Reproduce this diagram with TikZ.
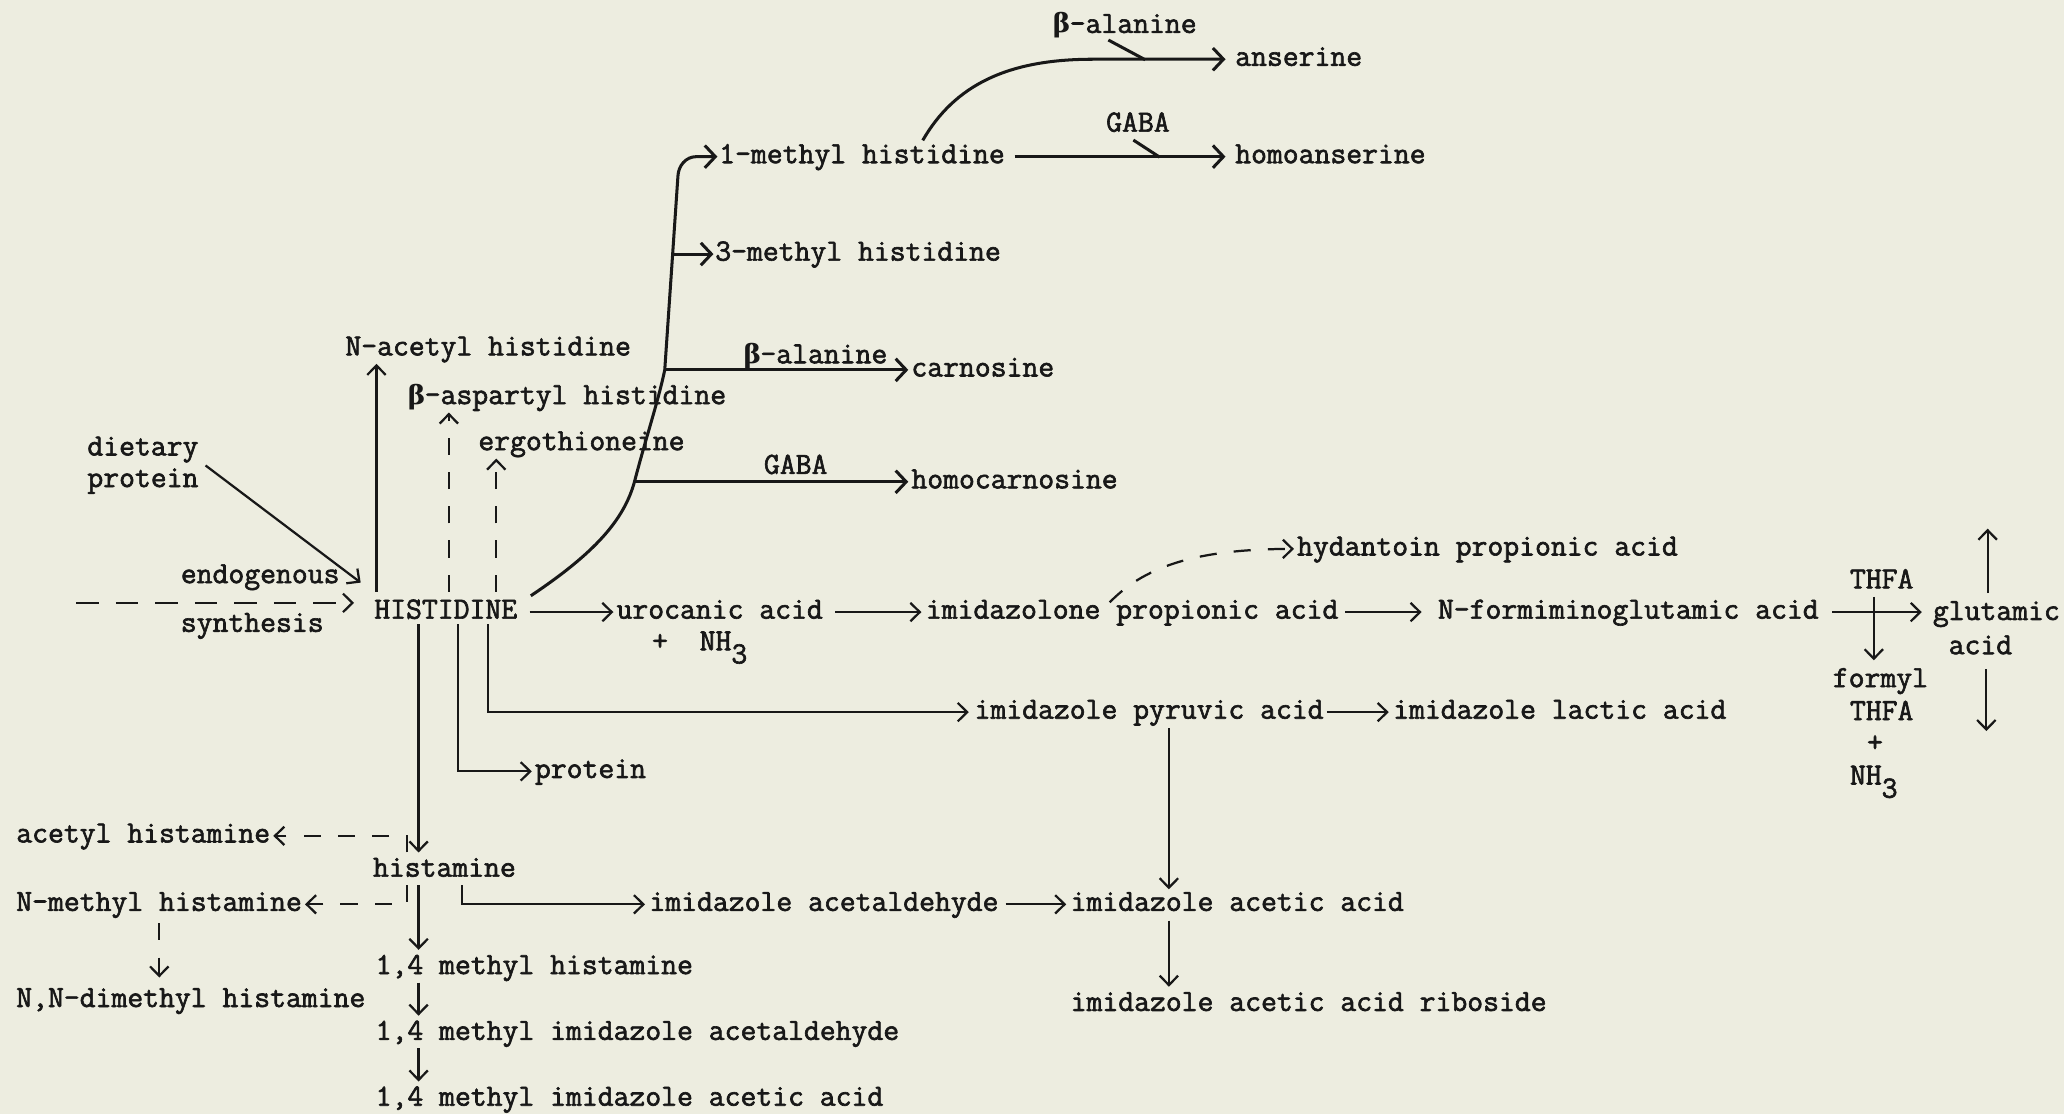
\documentclass[tikz,border=0pt]{standalone}
\usepackage{fontspec}
\setmonofont{Latin Modern Mono}[FakeBold=2]
\newfontfamily\grk{DejaVu Serif}
\usetikzlibrary{arrows.meta,calc}
\definecolor{paper}{RGB}{237,237,224}
\definecolor{ink}{RGB}{24,24,24}
\newcommand\mybeta{\makebox[0.525em][c]{\grk\bfseries\fontsize{10}{12}\selectfont β}}
\begin{document}
\begin{tikzpicture}[x=0.5pt,y=-0.5pt,
  lbl/.style={anchor=base west, inner sep=0pt, text height=7pt, text depth=2pt,
    font=\ttfamily\fontsize{11.7}{14}\selectfont, text=ink},
  ln/.style={draw=ink, line width=0.85pt},
  thk/.style={draw=ink, line width=1.15pt},
  arr/.style={-{Straight Barb[length=3.6pt,width=7pt]}},
  arrT/.style={-{Straight Barb[length=4pt,width=8.5pt]}},
  dsh/.style={dash pattern=on 6.5pt off 6.5pt},
  dshH/.style={dash pattern=on 8.5pt off 6.5pt},
]
\useasboundingbox (0,0) rectangle (1568,846);
\fill[paper] (0,0) rectangle (1568,846);

% ---------- labels ----------
\node[lbl] (balA) at (800,25) {\mybeta-alanine};
\node[lbl] (anser) at (938,50) {anserine};
\node[lbl] (mh1) at (546,124) {1-methyl histidine};
\node[lbl] (gabaA) at (840,100) {GABA};
\node[lbl] (homoans) at (938,124) {homoanserine};
\node[lbl] (mh3) at (543,198) {3-methyl histidine};
\node[lbl] (nacet) at (262,270) {N-acetyl histidine};
\node[lbl] (balB) at (565,276) {\mybeta-alanine};
\node[lbl] (carn) at (692,286) {carnosine};
\node[lbl] (basp) at (310,307) {\mybeta-aspartyl histidine};
\node[lbl] (diet1) at (66,346) {dietary};
\node[lbl] (diet2) at (66,370) {protein};
\node[lbl] (ergo) at (363,342) {ergothioneine};
\node[lbl] (gabaB) at (580,360) {GABA};
\node[lbl] (homocarn) at (692,371) {homocarnosine};
\node[lbl] (hyd) at (985,422) {hydantoin propionic acid};
\node[lbl] (endo) at (137,443) {endogenous};
\node[lbl] (his) at (284,470) {HISTIDINE};
\node[lbl] (synth) at (137,480) {synthesis};
\node[lbl] (uro) at (468,470) {urocanic acid};
\node[lbl] (nh3a) at (495,494) {+\ \ NH\raisebox{-5pt}{3}};
\node[lbl] (imzol) at (703,470) {imidazolone propionic acid};
\node[lbl] (nform) at (1092,470) {N-formiminoglutamic acid};
\node[lbl] (thfa1) at (1405,447) {THFA};
\node[lbl] (glu1) at (1468,471) {glutamic};
\node[lbl] (glu2) at (1480,497) {acid};
\node[lbl] (formyl) at (1392,522) {formyl};
\node[lbl] (thfa2) at (1405,547) {THFA};
\node[lbl] (plus) at (1418,571) {+};
\node[lbl] (nh3b) at (1405,596) {NH\raisebox{-5pt}{3}};
\node[lbl] (pyr) at (740,546) {imidazole pyruvic acid};
\node[lbl] (lac) at (1058,546) {imidazole lactic acid};
\node[lbl] (protB) at (406,591) {protein};
\node[lbl] (acet) at (12,640) {acetyl histamine};
\node[lbl] (hista) at (283,666) {histamine};
\node[lbl] (nmeth) at (12,692) {N-methyl histamine};
\node[lbl] (iald) at (493,692) {imidazole acetaldehyde};
\node[lbl] (iaa) at (813,692) {imidazole acetic acid};
\node[lbl] (mhist) at (285,740) {1,4 methyl histamine};
\node[lbl] (nndi) at (12,765) {N,N-dimethyl histamine};
\node[lbl] (ribo) at (813,768) {imidazole acetic acid riboside};
\node[lbl] (miald) at (285,790) {1,4 methyl imidazole acetaldehyde};
\node[lbl] (miaa) at (285,840) {1,4 methyl imidazole acetic acid};

% ---------- helper coordinates ----------
\coordinate (a1) at ($(his.north west)+(2,-6)$);
\coordinate (a2) at ($(his.north west)+(57,-6)$);
\coordinate (a3) at ($(his.north west)+(93,-6)$);
\coordinate (a4) at ($(his.south west)+(87,0)$);
\coordinate (a5) at ($(his.south west)+(64,0)$);
\coordinate (a6) at ($(his.south west)+(34,0)$);
\coordinate (a7) at ($(hista.north west)+(26,-4)$);
\coordinate (a8) at ($(hista.south west)+(26,2)$);
\coordinate (a9) at ($(hista.south west)+(68,2)$);
\coordinate (a10) at ($(hista.south west)+(35,2)$);
\coordinate (a11) at ($(mhist.south west)+(33,2)$);
\coordinate (a12) at ($(miald.south west)+(33,2)$);
\coordinate (a13) at ($(nmeth.south west)+(109,5)$);
\coordinate (a14) at ($(pyr.south west)+(148,3)$);
\coordinate (a15) at ($(iaa.south west)+(75,3)$);
\coordinate (a16) at ($(thfa1.south)+(-6,2)$);
\coordinate (a17) at ($(glu1.north west)+(42,-6)$);
\coordinate (gluUp) at ($(a17)+(0,-49)$);
\coordinate (a18) at ($(glu2.south west)+(29,7)$);
\coordinate (gluDn) at ($(a18)+(0,47)$);
\coordinate (a19) at ($(imzol.north west)+(140,2)$);
\coordinate (a20) at ($(diet2.north east)+(5,-2)$);
\coordinate (a21) at (58,458);
\coordinate (hisTip) at ($(his.north west)+(-10,-13)$);
\coordinate (cStart) at ($(his.north east)+(10,-3)$);
\coordinate (anStart) at ($(mh1.north west)+(155,-3)$);

% ---------- inputs to HISTIDINE ----------
\draw[ln,arr] (a20) -- (hisTip);
\draw[ln,dshH,arr,shorten >=7.5pt] (a21) -- (a21 -| his.west);

% ---------- upward branches ----------
\draw[ln,arr,shorten >=1pt] (a1) -- (a1 |- nacet.south);
\draw[ln,dsh,arr,shorten >=1pt] (a2) -- (a2 |- basp.south);
\draw[ln,dsh,arr,shorten >=1pt] (a3) -- (a3 |- ergo.south);

% big curve to 1-methyl histidine with its branches
\draw[thk,arrT] (cStart) .. controls (452,420) and (474,395) .. (482,366) coordinate (brHC)
  .. controls (490,335) and (500,305) .. (505,281) coordinate (brC)
  -- (511,193) coordinate (br3) -- (515,134) to[out=88,in=180] (529,119)
  -- ($(mh1.west)+(-1,0)$);
\draw[thk,arrT,shorten >=1pt] (brHC) -- (homocarn.west);
\draw[thk,arrT,shorten >=1pt] (brC) -- (carn.west);
\draw[thk,arrT,shorten >=0.5pt] (br3) -- (mh3.west);

% 1-methyl histidine -> homoanserine / anserine
\draw[thk,arrT,shorten <=3.5pt,shorten >=3.5pt] (mh1.east) -- (homoans.west);
\draw[thk] ($(gabaA.south west)+(21,2)$) -- ($(gabaA.south west)+(41,15)$);
\draw[thk,arrT,shorten >=3.5pt] (anStart) .. controls (725,65) and (765,45) .. (830,45) -- (anser.west);
\draw[thk] ($(balA.south west)+(42,1)$) -- ($(balA.south west)+(70,16)$);

% ---------- main horizontal chain ----------
\draw[ln,arr,shorten <=4.5pt,shorten >=1pt] (his.east) -- (uro.west);
\draw[ln,arr,shorten <=4.5pt,shorten >=1.5pt] (uro.east) -- (imzol.west);
\draw[ln,arr,shorten <=2.5pt,shorten >=6pt] (imzol.east) -- (imzol.east -| nform.west);
\draw[ln,arr,shorten <=5pt,shorten >=4pt] (nform.east) -- (nform.east -| glu1.west);
\draw[ln,dsh,arr,shorten >=1pt] (a19) .. controls (868,432) and (905,417) .. (hyd.west);
\draw[ln,arr,shorten >=3pt] (a16) -- (a16 |- formyl.north);
\draw[ln,arr] (a17) -- (gluUp);
\draw[ln,arr] (a18) -- (gluDn);

% ---------- lower branches ----------
\draw[ln,arr,shorten >=2pt] (a4) |- (pyr.west);
\draw[ln,arr,shorten >=1pt] (a5) |- (protB.west);
\draw[ln,arr,shorten >=2pt] (a6) -- (a6 |- hista.north);
\draw[ln,arr,shorten <=1pt,shorten >=1.5pt] (pyr.east) -- (lac.west);
\draw[ln,arr,shorten >=1pt] (a14) -- (a14 |- iaa.north);
\draw[ln,arr,shorten >=2pt] (a15) -- (a15 |- ribo.north);

% histamine
\draw[ln,dsh,arr,shorten >=1pt] (a7) |- (acet.east);
\draw[ln,dsh,arr,shorten >=1pt] (a8) |- (nmeth.east);
\draw[ln,arr,shorten >=1.5pt] (a9) |- (iald.west);
\draw[ln,arr,shorten <=2.5pt,shorten >=1.5pt] (iald.east) -- (iaa.west);
\draw[ln,arr,shorten >=2pt] (a10) -- (a10 |- mhist.north);
\draw[ln,arr,shorten >=2pt] (a11) -- (a11 |- miald.north);
\draw[ln,arr,shorten >=2pt] (a12) -- (a12 |- miaa.north);
\draw[ln,dsh,arr,shorten >=4pt] (a13) -- (a13 |- nndi.north);
\end{tikzpicture}
\end{document}
